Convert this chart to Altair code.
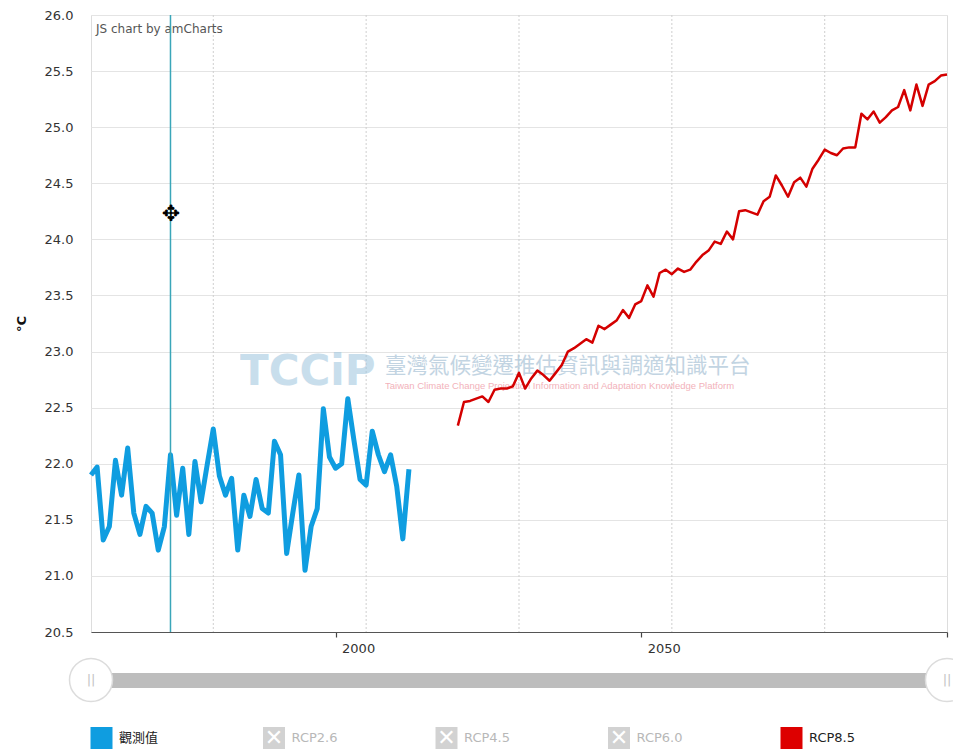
import altair as alt
import pandas as pd

# ---------------- data ----------------
obs_years = list(range(1960, 2013))
obs_temp = [21.90, 21.97, 21.32, 21.44, 22.03, 21.72, 22.14, 21.56, 21.37, 21.62,
            21.56, 21.23, 21.44, 22.08, 21.54, 21.96, 21.37, 22.02, 21.66, 21.99,
            22.31, 21.89, 21.72, 21.87, 21.23, 21.72, 21.53, 21.86, 21.60, 21.56,
            22.20, 22.08, 21.20, 21.56, 21.90, 21.05, 21.44, 21.60, 22.49, 22.06,
            21.96, 22.00, 22.58, 22.21, 21.86, 21.81, 22.29, 22.08, 21.93, 22.08,
            21.80, 21.33, 21.95]

rcp85_years = list(range(2020, 2101))
rcp85_temp = [22.34, 22.55, 22.56, 22.58, 22.60, 22.55, 22.66, 22.67, 22.67, 22.69,
              22.81, 22.67, 22.76, 22.83, 22.79, 22.74, 22.81, 22.88, 23.00, 23.03,
              23.07, 23.11, 23.08, 23.23, 23.20, 23.24,
              23.28, 23.37, 23.30, 23.42, 23.45, 23.59, 23.49, 23.70, 23.73, 23.69,
              23.74, 23.71, 23.73, 23.80, 23.86, 23.90, 23.98, 23.96, 24.07, 24.00,
              24.25, 24.26, 24.24, 24.22, 24.34, 24.38,
              24.57, 24.48, 24.38, 24.51, 24.55, 24.47, 24.63, 24.71, 24.80, 24.77,
              24.75, 24.81, 24.82, 24.82, 25.12, 25.07, 25.14, 25.04, 25.09, 25.15,
              25.18, 25.33, 25.15, 25.38, 25.19, 25.38, 25.41, 25.46, 25.47]

x_tick_values = [2000, 2050, 2100]
x_grid_years = [1980, 2005, 2030, 2055, 2080]
y_tick_values = [20.5, 21.0, 21.5, 22.0, 22.5, 23.0, 23.5, 24.0, 24.5, 25.0, 25.5, 26.0]
cursor_year = 1973

legend_names = ["觀測值", "RCP2.6", "RCP4.5", "RCP6.0", "RCP8.5"]
legend_colors = ["#0f9de0", "#d2d2d2", "#d2d2d2", "#d2d2d2", "#dd0000"]
legend_enabled = [True, False, False, False, True]

OBS_COLOR = "#0f9de0"
RCP_COLOR = "#d40000"
FONT = "DejaVu Sans"

W, H = 856, 617

obs_df = pd.DataFrame({"year": obs_years, "temp": obs_temp})
rcp_df = pd.DataFrame({"year": rcp85_years, "temp": rcp85_temp})
grid_df = pd.DataFrame({"year": x_grid_years})
one = pd.DataFrame({"k": [0]})

x_scale = alt.Scale(domain=[1960, 2100], nice=False, zero=False)
y_scale = alt.Scale(domain=[20.5, 26.0], nice=False, zero=False)

x_axis = alt.Axis(values=x_tick_values, format="d",
                  labelExpr="datum.value == 2100 ? '' : datum.label",
                  grid=False, tickSize=5, tickColor="#444", tickWidth=1.2,
                  domainColor="#555", domainWidth=1.2,
                  labelAlign="left", labelOffset=6, labelPadding=5,
                  labelFontSize=13, labelColor="#333", labelFont=FONT, title=None)
y_axis = alt.Axis(values=y_tick_values, format=".1f", grid=True,
                  gridColor="#e4e4e4", gridWidth=1, domain=False, ticks=False,
                  labelPadding=18, labelFontSize=13, labelColor="#333",
                  labelFont=FONT, title="°C", titleFont=FONT, titleFontSize=13,
                  titleFontWeight="bold", titleColor="#111", titleX=-63, titleY=H / 2,
                  titleAngle=-90)

X = alt.X("year:Q", scale=x_scale, axis=x_axis)
Y = alt.Y("temp:Q", scale=y_scale, axis=y_axis)

layers = []

# vertical dotted grid lines
layers.append(alt.Chart(grid_df).mark_rule(color="#cfcfcf", strokeWidth=1, strokeDash=[2, 2]).encode(
    x=X, y=alt.value(0), y2=alt.value(H)))

# watermark
layers.append(alt.Chart(one).mark_text(text="TCCiP", font=FONT, fontSize=42, fontWeight="bold",
                                       color="#9cc4dd", opacity=0.55, align="left",
                                       baseline="middle").encode(x=alt.value(149), y=alt.value(357)))
layers.append(alt.Chart(one).mark_text(text="臺灣氣候變遷推估資訊與調適知識平台", font="Noto Sans CJK TC",
                                       fontSize=21.5, color="#a9c3d6", opacity=0.7, align="left",
                                       baseline="middle").encode(x=alt.value(294), y=alt.value(352)))
layers.append(alt.Chart(one).mark_text(
    text="Taiwan Climate Change Projection Information and Adaptation Knowledge Platform",
    font="Liberation Sans", fontSize=9.5, color="#f0a0aa", opacity=0.8, align="left",
    baseline="middle").encode(x=alt.value(294), y=alt.value(371)))

# amCharts credit
layers.append(alt.Chart(one).mark_text(text="JS chart by amCharts", font=FONT, fontSize=12,
                                       color="#555", align="left", baseline="middle").encode(
    x=alt.value(5), y=alt.value(14)))

# data lines
layers.append(alt.Chart(obs_df).mark_line(color=OBS_COLOR, strokeWidth=5, strokeJoin="round").encode(x=X, y=Y))
layers.append(alt.Chart(rcp_df).mark_line(color=RCP_COLOR, strokeWidth=2.5, strokeJoin="round").encode(x=X, y=Y))

# cursor line + icon
layers.append(alt.Chart(one).mark_rule(color="#3aa6b9", strokeWidth=1.5).encode(
    x=alt.datum(cursor_year), y=alt.value(0), y2=alt.value(H)))
layers.append(alt.Chart(one).mark_text(text="✥", font=FONT, fontSize=22, color="#000",
                                       align="center", baseline="middle").encode(
    x=alt.value(80), y=alt.value(199)))

# scrollbar
layers.append(alt.Chart(one).mark_rect(color="#bdbdbd").encode(
    x=alt.value(0), x2=alt.value(856), y=alt.value(658), y2=alt.value(673)))
for hx in [0, 856]:
    layers.append(alt.Chart(one).mark_point(shape="circle", filled=True, fill="white", stroke="#dcdcdc",
                                            strokeWidth=1.5, size=1850, opacity=1).encode(
        x=alt.value(hx), y=alt.value(665)))
    layers.append(alt.Chart(one).mark_text(text="||", font=FONT, fontSize=13, color="#c4c4c4",
                                           align="center", baseline="middle").encode(
        x=alt.value(hx), y=alt.value(665)))

# legend
for i, (name, col, on) in enumerate(zip(legend_names, legend_colors, legend_enabled)):
    cx = 10.5 + i * 172.5
    layers.append(alt.Chart(one).mark_square(color=col, size=484, opacity=1).encode(
        x=alt.value(cx), y=alt.value(723)))
    if not on:
        layers.append(alt.Chart(one).mark_text(text="✕", font=FONT, fontSize=22, fontWeight="bold",
                                               color="white", align="center", baseline="middle").encode(
            x=alt.value(cx), y=alt.value(723)))
    layers.append(alt.Chart(one).mark_text(text=name, font="Noto Sans CJK TC" if i == 0 else FONT,
                                           fontSize=13, color="#222" if on else "#b8b8b8",
                                           align="left", baseline="middle").encode(
        x=alt.value(cx + 17.5), y=alt.value(723)))

chart = alt.layer(*layers).properties(
    width=W, height=H,
    autosize=alt.AutoSizeParams(type="none"),
    padding={"left": 83, "top": 7, "right": 6, "bottom": 117},
).configure_view(stroke=None).configure(background="white")

chart.save("out.html", embed_options={"renderer": "svg", "actions": False})
